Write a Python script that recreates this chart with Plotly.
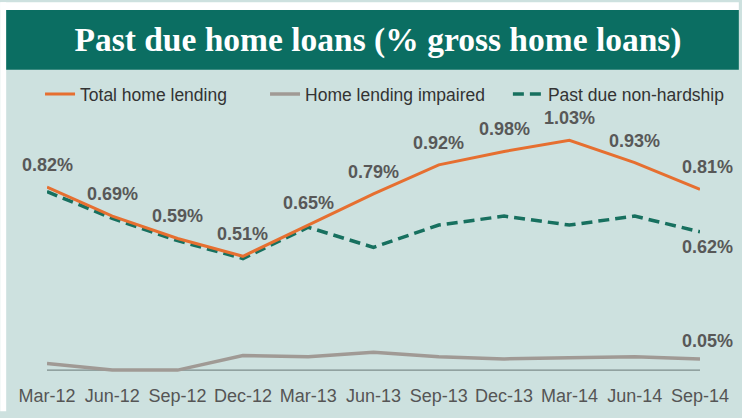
import plotly.graph_objects as go

categories = ["Mar-12", "Jun-12", "Sep-12", "Dec-12", "Mar-13", "Jun-13",
              "Sep-13", "Dec-13", "Mar-14", "Jun-14", "Sep-14"]
total_home_lending = [0.82, 0.69, 0.59, 0.51, 0.65, 0.79, 0.92, 0.98, 1.03, 0.93, 0.81]
home_lending_impaired = [0.03, 0.00, 0.00, 0.065, 0.06, 0.08, 0.06, 0.05, 0.055, 0.06, 0.05]
past_due_non_hardship = [0.80, 0.68, 0.58, 0.50, 0.64, 0.55, 0.65, 0.69, 0.65, 0.69, 0.62]

TITLE = "Past due home loans (% gross home loans)"

ORANGE = "#e66f30"
GRAY = "#a09a95"
TEAL = "#17705f"
BANNER = "#0b6e62"
BG = "#cde1df"

W, H = 742, 418
ML, MR, MT, MB = 47, 39, 100, 38
PW, PH = W - ML - MR, H - MT - MB


def px_x(p):
    return (p - ML) / PW


def px_y(p):
    return (H - MB - p) / PH


fig = go.Figure()
fig.add_trace(go.Scatter(
    x=categories, y=past_due_non_hardship, name="Past due non-hardship",
    mode="lines", line=dict(color=TEAL, width=3.5, dash="11px,6px"),
    legend="legend2", cliponaxis=False))
fig.add_trace(go.Scatter(
    x=categories, y=home_lending_impaired, name="Home lending impaired",
    mode="lines", line=dict(color=GRAY, width=3.5),
    legendrank=2, cliponaxis=False))
fig.add_trace(go.Scatter(
    x=categories, y=total_home_lending, name="Total home lending",
    mode="lines", line=dict(color=ORANGE, width=3),
    legendrank=1, cliponaxis=False))

label_font = dict(family="Liberation Sans, Arial", size=18, color="#585858")
annotations = []
last = len(categories) - 1
for i, (c, v) in enumerate(zip(categories, total_home_lending)):
    annotations.append(dict(x=c, y=v, text=f"<b>{v:.2f}%</b>", showarrow=False,
                            yshift=22, xshift=7 if i == last else 0,
                            font=label_font))
annotations.append(dict(x=categories[last], y=past_due_non_hardship[last],
                        text=f"<b>{past_due_non_hardship[last]:.2f}%</b>",
                        showarrow=False, yshift=-15, xshift=7, font=label_font))
annotations.append(dict(x=categories[last], y=home_lending_impaired[last],
                        text=f"<b>{home_lending_impaired[last]:.2f}%</b>",
                        showarrow=False, yshift=18, xshift=7, font=label_font))

shapes = [
    # white strips at top and left
    dict(type="rect", xref="paper", yref="paper", x0=px_x(0), x1=px_x(W),
         y0=px_y(8), y1=px_y(0), fillcolor="white", line_width=0, layer="below"),
    dict(type="rect", xref="paper", yref="paper", x0=px_x(0), x1=px_x(6),
         y0=px_y(H), y1=px_y(0), fillcolor="white", line_width=0, layer="below"),
    # title banner
    dict(type="rect", xref="paper", yref="paper", x0=px_x(6), x1=px_x(W),
         y0=px_y(69), y1=px_y(8), fillcolor=BANNER, line_width=0, layer="below"),
    # baseline
    dict(type="line", xref="x", yref="y", x0=categories[0], x1=categories[last],
         y0=0, y1=0, line=dict(color="#7d8c8b", width=1.2), layer="below"),
]

legend_font = dict(family="Liberation Sans, Arial", size=17.5, color="#333333")

fig.update_layout(
    width=W, height=H,
    margin=dict(l=ML, r=MR, t=MT, b=MB),
    paper_bgcolor=BG, plot_bgcolor=BG,
    title=dict(text=TITLE, x=378 / W, xanchor="center", y=1 - 39 / H,
               yanchor="middle",
               font=dict(family="Liberation Serif, Times New Roman, serif",
                         size=33.5, color="white", weight="bold")),
    showlegend=True,
    legend=dict(orientation="h", x=px_x(40), xanchor="left", y=px_y(94),
                yanchor="middle", bgcolor="rgba(0,0,0,0)",
                font=legend_font, entrywidth=180, traceorder="normal"),
    legend2=dict(orientation="h", x=px_x(510), xanchor="left", y=px_y(94),
                 yanchor="middle", bgcolor="rgba(0,0,0,0)",
                 font=legend_font),
    xaxis=dict(type="category", range=[0, 10], showgrid=False, zeroline=False,
               showline=False, ticks="", ticklabelstandoff=9,
               tickfont=dict(family="Liberation Sans, Arial", size=18, color="#555555")),
    yaxis=dict(range=[-4 / 228, (376 - MT) / 228], showgrid=False,
               zeroline=False, showline=False, showticklabels=False, ticks=""),
    annotations=annotations,
    shapes=shapes,
)

fig.write_html("out.html", config={"displayModeBar": False},
               post_script="document.body.style.margin='0';")
